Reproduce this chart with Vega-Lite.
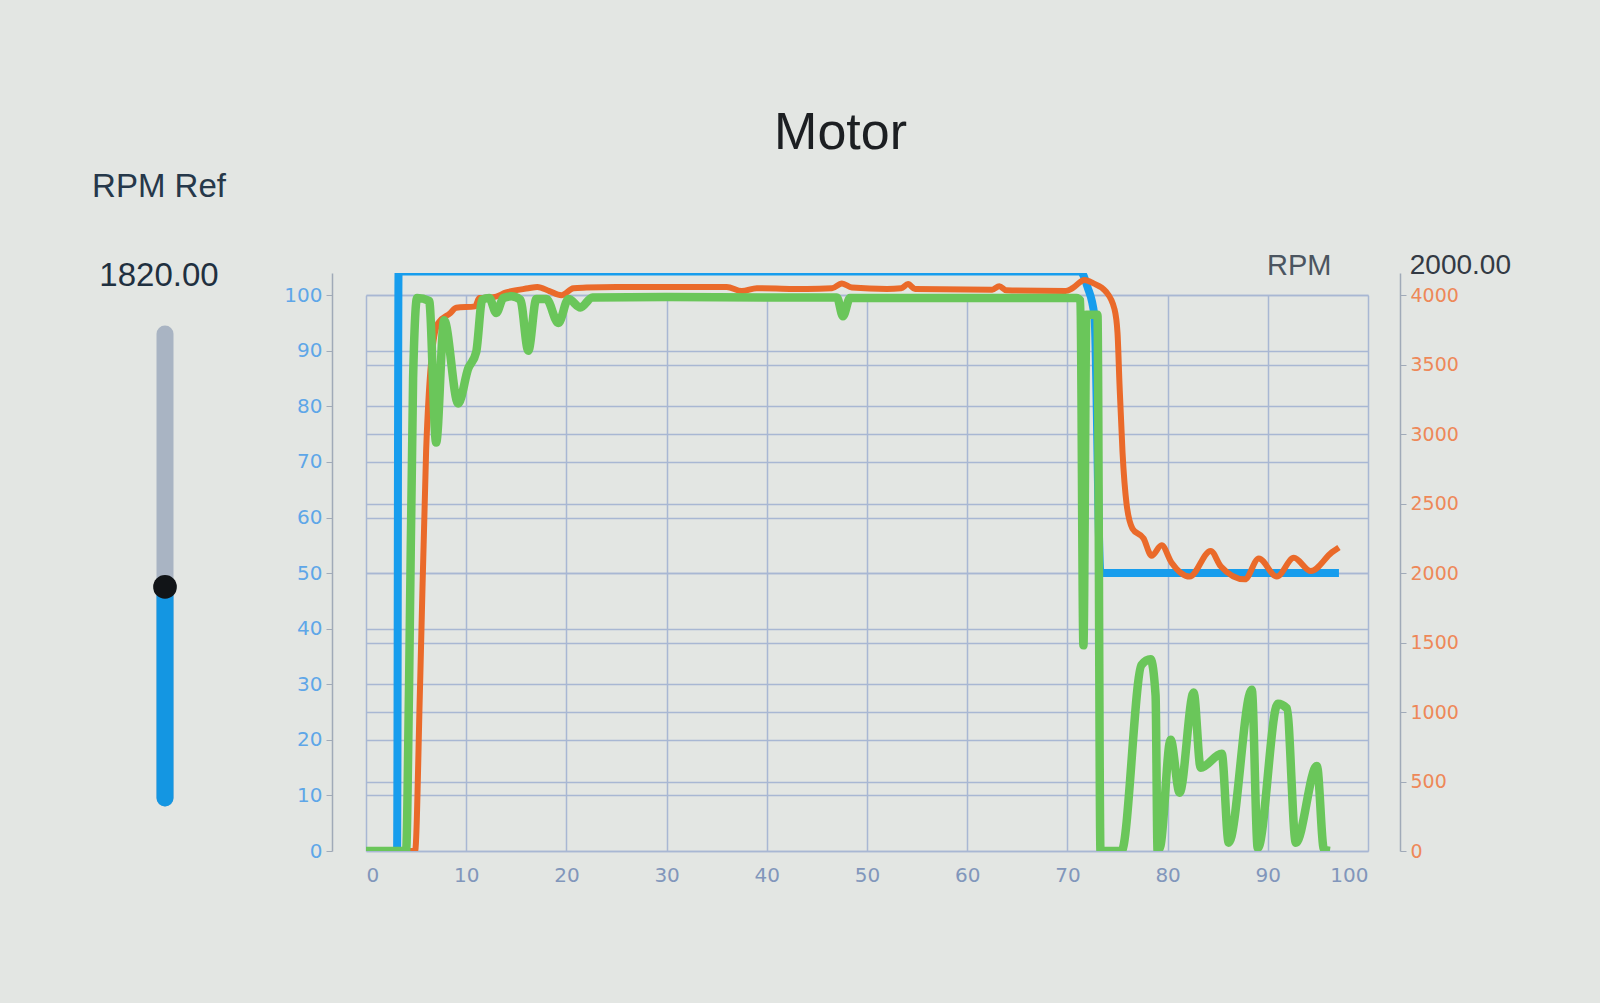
{
  "$schema": "https://vega.github.io/schema/vega-lite/v6.json",
  "description": "Motor: duty and RPM trace with RPM Ref slider",
  "background": "#e3e6e3",
  "padding": {"left": 92, "top": 107, "right": 90, "bottom": 120},
  "title": {
    "text": "Motor",
    "anchor": "middle",
    "font": "Liberation Sans",
    "fontSize": 52,
    "fontWeight": "normal",
    "color": "#1c1f22",
    "offset": 11,
    "dx": 39
  },
  "datasets": {
    "ref": [{"name": "RPM Ref", "min": 0, "max": 4000, "value": 1820}],
    "rpmRef": [
      {"t": 0, "rpm": 0}, {"t": 3.1, "rpm": 0}, {"t": 3.25, "rpm": 4170},
      {"t": 71.3, "rpm": 4170}, {"t": 72.0, "rpm": 4060}, {"t": 72.7, "rpm": 3850},
      {"t": 73.3, "rpm": 2000}, {"t": 97.1, "rpm": 2000}
    ],
    "rpm": [
      {"t": 0, "rpm": 0}, {"t": 4.9, "rpm": 0}, {"t": 5.4, "rpm": 1200}, {"t": 6.0, "rpm": 2880},
      {"t": 6.5, "rpm": 3520}, {"t": 7.2, "rpm": 3800}, {"t": 8.4, "rpm": 3870}, {"t": 9.0, "rpm": 3910},
      {"t": 10.9, "rpm": 3920}, {"t": 11.3, "rpm": 3980}, {"t": 12.7, "rpm": 3985}, {"t": 14.0, "rpm": 4020},
      {"t": 16.2, "rpm": 4050}, {"t": 17.1, "rpm": 4060}, {"t": 18.3, "rpm": 4030}, {"t": 19.5, "rpm": 4000},
      {"t": 20.7, "rpm": 4050}, {"t": 22.0, "rpm": 4055}, {"t": 25, "rpm": 4060}, {"t": 30, "rpm": 4060},
      {"t": 36, "rpm": 4060}, {"t": 37.5, "rpm": 4030}, {"t": 39, "rpm": 4050}, {"t": 44, "rpm": 4045},
      {"t": 46.5, "rpm": 4050}, {"t": 47.5, "rpm": 4085}, {"t": 48.5, "rpm": 4055}, {"t": 52, "rpm": 4045},
      {"t": 53.4, "rpm": 4050}, {"t": 54.1, "rpm": 4080}, {"t": 54.8, "rpm": 4045}, {"t": 62.5, "rpm": 4040},
      {"t": 63.2, "rpm": 4065}, {"t": 63.9, "rpm": 4035}, {"t": 69.8, "rpm": 4030}, {"t": 70.5, "rpm": 4050},
      {"t": 71.7, "rpm": 4110}, {"t": 72.6, "rpm": 4085}, {"t": 73.8, "rpm": 4030}, {"t": 74.7, "rpm": 3900},
      {"t": 75.0, "rpm": 3730}, {"t": 75.2, "rpm": 3360}, {"t": 75.5, "rpm": 2870}, {"t": 75.9, "rpm": 2500},
      {"t": 76.5, "rpm": 2320}, {"t": 77.6, "rpm": 2250}, {"t": 78.4, "rpm": 2125}, {"t": 79.4, "rpm": 2200},
      {"t": 80.4, "rpm": 2075}, {"t": 82.2, "rpm": 1975}, {"t": 84.3, "rpm": 2160}, {"t": 85.3, "rpm": 2050},
      {"t": 87.7, "rpm": 1955}, {"t": 89.1, "rpm": 2105}, {"t": 90.9, "rpm": 1975}, {"t": 92.6, "rpm": 2110},
      {"t": 94.3, "rpm": 2015}, {"t": 96.4, "rpm": 2150}, {"t": 97.1, "rpm": 2185}
    ],
    "duty": [
      {"t": 0, "duty": 0}, {"t": 4.0, "duty": 0}, {"t": 4.3, "duty": 30}, {"t": 4.7, "duty": 85},
      {"t": 5.1, "duty": 99.5}, {"t": 6.3, "duty": 99}, {"t": 7.0, "duty": 73.5}, {"t": 7.8, "duty": 95.5},
      {"t": 9.2, "duty": 80.5}, {"t": 10.2, "duty": 86.8}, {"t": 11.0, "duty": 89.8}, {"t": 11.6, "duty": 99.2},
      {"t": 12.3, "duty": 99.5}, {"t": 13.0, "duty": 96.8}, {"t": 13.7, "duty": 99.5}, {"t": 14.5, "duty": 99.8},
      {"t": 15.4, "duty": 99.2}, {"t": 16.2, "duty": 90}, {"t": 17.0, "duty": 99.3}, {"t": 18.0, "duty": 99.3},
      {"t": 19.2, "duty": 95}, {"t": 20.2, "duty": 99.3}, {"t": 21.4, "duty": 97.8}, {"t": 22.6, "duty": 99.6},
      {"t": 30, "duty": 99.7}, {"t": 40, "duty": 99.6}, {"t": 47.0, "duty": 99.6}, {"t": 47.6, "duty": 96.2},
      {"t": 48.3, "duty": 99.5}, {"t": 60, "duty": 99.5}, {"t": 70.9, "duty": 99.5}, {"t": 71.3, "duty": 99},
      {"t": 71.6, "duty": 37}, {"t": 71.9, "duty": 96.5}, {"t": 73.0, "duty": 96.5}, {"t": 73.3, "duty": 0},
      {"t": 75.4, "duty": 0}, {"t": 77.4, "duty": 33.5}, {"t": 78.3, "duty": 34.5}, {"t": 78.8, "duty": 28},
      {"t": 79.0, "duty": 0}, {"t": 79.3, "duty": 1}, {"t": 80.3, "duty": 20}, {"t": 81.2, "duty": 10.5},
      {"t": 82.6, "duty": 28.5}, {"t": 83.3, "duty": 15}, {"t": 85.4, "duty": 17.5}, {"t": 86.1, "duty": 1.5},
      {"t": 88.4, "duty": 29}, {"t": 89.0, "duty": 0.5}, {"t": 91.0, "duty": 26.5}, {"t": 91.9, "duty": 25.7},
      {"t": 92.8, "duty": 1.5}, {"t": 94.9, "duty": 15.3}, {"t": 95.6, "duty": 0.3}, {"t": 96.2, "duty": 0}
    ]
  },
  "spacing": 57,
  "hconcat": [
    {
      "width": 40,
      "height": 525,
      "title": {
        "text": "RPM Ref",
        "anchor": "middle",
        "font": "Liberation Sans",
        "fontSize": 33,
        "fontWeight": "normal",
        "color": "#26384a",
        "offset": 56,
        "dx": -6
      },
      "data": {"name": "ref"},
      "encoding": {"x": {"field": "name", "type": "nominal", "axis": null}},
      "layer": [
        {
          "mark": {"type": "rule", "strokeWidth": 17, "strokeCap": "round", "color": "#a9b4c3"},
          "encoding": {
            "y": {"field": "min", "type": "quantitative", "scale": {"domain": [0, 4526], "nice": false}, "axis": null},
            "y2": {"field": "max"}
          }
        },
        {
          "mark": {"type": "rule", "strokeWidth": 17, "strokeCap": "round", "color": "#1496e2"},
          "encoding": {
            "y": {"field": "min", "type": "quantitative", "scale": {"domain": [0, 4526], "nice": false}},
            "y2": {"field": "value"}
          }
        },
        {
          "mark": {"type": "point", "filled": true, "size": 560, "color": "#111417", "opacity": 1},
          "encoding": {
            "y": {"field": "value", "type": "quantitative", "scale": {"domain": [0, 4526], "nice": false}}
          }
        },
        {
          "mark": {"type": "text", "font": "Liberation Sans", "fontSize": 33, "baseline": "alphabetic", "dy": -48, "dx": -6, "color": "#1f3040"},
          "encoding": {
            "y": {"field": "max", "type": "quantitative", "scale": {"domain": [0, 4526], "nice": false}},
            "text": {"field": "value", "type": "quantitative", "format": ".2f"}
          }
        }
      ]
    },
    {
      "width": 1002,
      "height": 578,
      "title": {
        "text": "2000.00",
        "orient": "top",
        "anchor": "end",
        "frame": "group",
        "baseline": "alphabetic",
        "dx": 143,
        "offset": -51,
        "font": "Liberation Sans",
        "fontSize": 28,
        "fontWeight": "normal",
        "color": "#333a44"
      },
      "encoding": {
        "x": {
          "field": "t",
          "type": "quantitative",
          "title": null,
          "scale": {"domain": [0, 100], "nice": false},
          "axis": {
            "values": [0, 10, 20, 30, 40, 50, 60, 70, 80, 90, 100],
            "grid": false,
            "domain": false,
            "tickSize": -555.8,
            "tickColor": "#a8b7d3",
            "tickWidth": 1.5,
            "labelColor": "#8196bb",
            "labelFont": "DejaVu Sans",
            "labelFontSize": 20,
            "labelPadding": 569.8
          }
        }
      },
      "layer": [
        {
          "layer": [
            {
              "data": {"name": "rpmRef"},
              "mark": {"type": "line", "color": "#179ded", "strokeWidth": 8, "interpolate": "monotone", "clip": true},
              "encoding": {
                "y": {
                  "field": "rpm",
                  "type": "quantitative",
                  "scale": {"domain": [0, 4160], "nice": false},
                  "axis": {
                    "orient": "right",
                    "values": [0, 500, 1000, 1500, 2000, 2500, 3000, 3500, 4000],
                    "format": "d",
                    "offset": 32,
                    "grid": true,
                    "gridColor": "#a8b7d3",
                    "gridWidth": 1.5,
                    "domainColor": "#a0aab8",
                    "domainWidth": 1.5,
                    "tickColor": "#a0aab8",
                    "tickSize": 6,
                    "labelColor": "#ee8858",
                    "labelFont": "DejaVu Sans",
                    "labelFontSize": 19,
                    "labelPadding": 4,
                    "title": "RPM",
                    "titleAngle": 0,
                    "titleAlign": "right",
                    "titleBaseline": "alphabetic",
                    "titleX": -69,
                    "titleY": 1,
                    "titleFont": "Liberation Sans",
                    "titleFontSize": 29,
                    "titleFontWeight": "normal",
                    "titleColor": "#4b5560"
                  }
                }
              }
            },
            {
              "data": {"name": "rpm"},
              "mark": {"type": "line", "color": "#ea6a2a", "strokeWidth": 6, "interpolate": "monotone", "clip": true},
              "encoding": {
                "y": {"field": "rpm", "type": "quantitative", "scale": {"domain": [0, 4160], "nice": false}}
              }
            }
          ]
        },
        {
          "data": {"name": "duty"},
          "mark": {"type": "line", "color": "#6ac65a", "strokeWidth": 8.5, "interpolate": "monotone", "clip": true},
          "encoding": {
            "y": {
              "field": "duty",
              "type": "quantitative",
              "title": null,
              "scale": {"domain": [0, 104], "nice": false},
              "axis": {
                "orient": "left",
                "values": [0, 10, 20, 30, 40, 50, 60, 70, 80, 90, 100],
                "offset": 34,
                "grid": true,
                "gridColor": "#a8b7d3",
                "gridWidth": 1.5,
                "domainColor": "#a0aab8",
                "domainWidth": 1.5,
                "tickColor": "#a0aab8",
                "tickSize": 6,
                "labelColor": "#5ea6e8",
                "labelFont": "DejaVu Sans",
                "labelFontSize": 20,
                "labelPadding": 4
              }
            }
          }
        }
      ],
      "resolve": {"scale": {"y": "independent"}, "axis": {"y": "independent"}}
    }
  ],
  "config": {"view": {"stroke": null}, "font": "Liberation Sans"}
}
